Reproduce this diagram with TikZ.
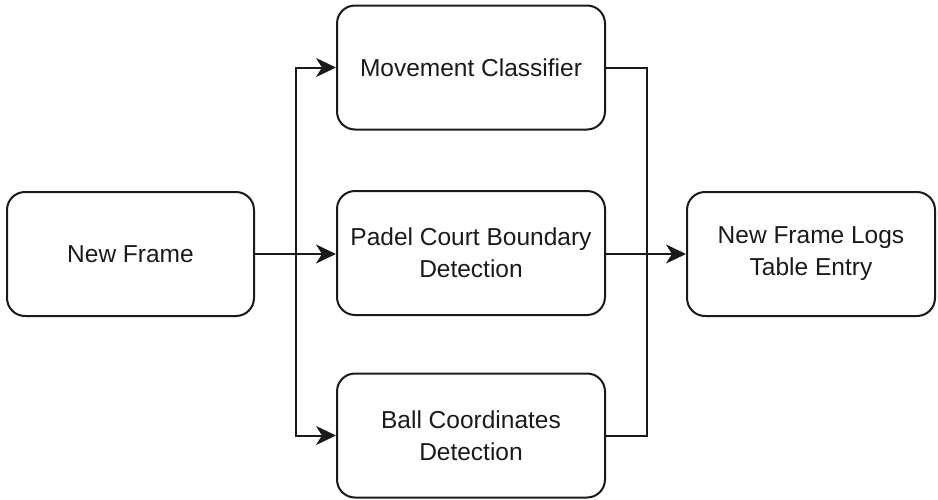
\documentclass[tikz,border=0pt]{standalone}
\usepackage{fontspec}
\setmainfont{Liberation Sans}
\usetikzlibrary{arrows.meta}
\definecolor{ink}{HTML}{1A1A1A}
\tikzset{
  box/.style={draw=ink, line width=2pt, rounded corners=18pt, align=center,
    text=ink, font=\fontsize{24.5}{32}\selectfont, inner sep=0pt},
  wide/.style={box, minimum width=268pt, minimum height=124pt},
  side/.style={box, minimum width=247pt, minimum height=124pt},
  conn/.style={draw=ink, line width=2pt},
  arr/.style={conn, -{Stealth[length=20pt, width=19pt, inset=6pt]}},
}
\begin{document}
\begin{tikzpicture}[x=1pt, y=-1pt]
\useasboundingbox (0,0) rectangle (938,499);
\node[side] (nf) at (130.5,254) {New Frame};
\node[wide] (mc) at (471,67.5) {Movement Classifier};
\node[wide] (pc) at (471,253) {Padel Court Boundary\\Detection};
\node[wide] (bc) at (471,435.5) {Ball Coordinates\\Detection};
\node[side, minimum width=248pt] (lg) at (811,254) {New Frame Logs\\Table Entry};
\coordinate (split) at (296,254);
\coordinate (merge) at (647,254);
\draw[conn] (nf.east) -- (split);
\draw[arr] (split) |- (mc.west);
\draw[arr] (split) -- (split -| pc.west);
\draw[arr] (split) |- (bc.west);
\draw[conn] (mc.east) -| (merge);
\draw[conn] (bc.east) -| (merge);
\draw[conn] (merge -| pc.east) -- (merge);
\draw[arr] (merge) -- (lg.west);
\end{tikzpicture}
\end{document}
